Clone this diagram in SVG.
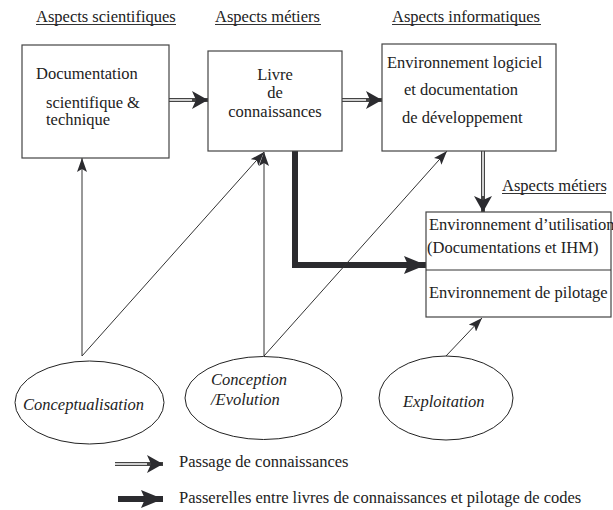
<svg xmlns="http://www.w3.org/2000/svg" width="613" height="510" viewBox="0 0 613 510">
<style>
text{font-family:"Liberation Serif","Tinos","Times New Roman","DejaVu Serif",serif;font-size:16.5px;fill:#222}
.it{font-style:italic}
.box{fill:#fff;stroke:#444;stroke-width:1.2}
.ell{fill:#fff;stroke:#222;stroke-width:1}
.ul{stroke:#333;stroke-width:1}
.thin{fill:none;stroke:#333;stroke-width:1}
.dbl{fill:none;stroke:#444;stroke-width:4}
.dbli{fill:none;stroke:#fff;stroke-width:1.5}
.thick{fill:none;stroke:#2b2b2f;stroke-width:6}
.hd{fill:#2b2b2f}
</style>
<defs>
<marker id="hs" markerUnits="userSpaceOnUse" viewBox="0 0 14 10" refX="14" refY="5" markerWidth="14" markerHeight="10" orient="auto"><path class="hd" d="M0,0 L14,5 L0,10 L3,5 Z"/></marker>
<marker id="hb" markerUnits="userSpaceOnUse" viewBox="0 0 16 18" refX="16" refY="9" markerWidth="16" markerHeight="18" orient="auto"><path class="hd" d="M0,0 L16,9 L0,18 L4,9 Z"/></marker>
<marker id="ht" markerUnits="userSpaceOnUse" viewBox="0 0 22 18" refX="22" refY="9" markerWidth="22" markerHeight="18" orient="auto"><path class="hd" d="M0,0 L22,9 L0,18 L4,9 Z"/></marker>
</defs>

<g id="headers">
<text x="36" y="22">Aspects scientifiques</text><line class="ul" x1="36" y1="24.5" x2="176" y2="24.5"/>
<text x="215" y="22">Aspects métiers</text><line class="ul" x1="215" y1="24.5" x2="321" y2="24.5"/>
<text x="392" y="22">Aspects informatiques</text><line class="ul" x1="392" y1="24.5" x2="541" y2="24.5"/>
<text x="502" y="191">Aspects métiers</text><line class="ul" x1="502" y1="193.5" x2="606" y2="193.5"/>
</g>

<g id="connectors">
<path class="dbl" d="M169,100 H208" marker-end="url(#hb)"/><path class="dbli" d="M169,100 H192"/>
<path class="dbl" d="M342,100 H382" marker-end="url(#hb)"/><path class="dbli" d="M342,100 H366"/>
<path class="dbl" d="M483,151 V212" marker-end="url(#hb)"/><path class="dbli" d="M483,151 V196"/>
<path class="thick" d="M295,151 V265 H426" marker-end="url(#ht)"/>
<path class="thin" d="M82,356 V158" marker-end="url(#hs)"/>
<path class="thin" d="M82,356 L264,152" marker-end="url(#hs)"/>
<path class="thin" d="M264,356 V152" marker-end="url(#hs)"/>
<path class="thin" d="M264,356 L447,151" marker-end="url(#hs)"/>
<path class="thin" d="M446,356 L482,318" marker-end="url(#hs)"/>
</g>

<g id="doc">
<rect class="box" x="22" y="45" width="147" height="113"/>
<text x="36" y="79">Documentation</text>
<text x="46" y="108">scientifique &amp;</text>
<text x="46" y="125">technique</text>
</g>

<g id="livre">
<rect class="box" x="208" y="51" width="134" height="100"/>
<text x="275" y="80" text-anchor="middle">Livre</text>
<text x="275" y="98" text-anchor="middle">de</text>
<text x="275" y="117" text-anchor="middle">connaissances</text>
</g>

<g id="logiciel">
<rect class="box" x="382" y="44" width="174" height="107"/>
<text x="387" y="68">Environnement logiciel</text>
<text x="404" y="95">et documentation</text>
<text x="402" y="123">de développement</text>
</g>

<g id="utilisation">
<rect class="box" x="426" y="212" width="185" height="105"/>
<line class="ul" x1="426" y1="270" x2="611" y2="270"/>
<text x="429" y="230">Environnement d’utilisation</text>
<text x="427" y="253">(Documentations et IHM)</text>
<text x="429" y="298">Environnement de pilotage</text>
</g>

<g id="conceptualisation">
<ellipse class="ell" cx="89.5" cy="402.5" rx="74.5" ry="41.5"/>
<text class="it" x="23" y="410">Conceptualisation</text>
</g>

<g id="conception">
<ellipse class="ell" cx="263.5" cy="398" rx="78.5" ry="41.5"/>
<text class="it" x="211" y="385">Conception</text>
<text class="it" x="211" y="405">/Evolution</text>
</g>

<g id="exploitation">
<ellipse class="ell" cx="446" cy="398" rx="67" ry="42"/>
<text class="it" x="403" y="407">Exploitation</text>
</g>

<g id="legend">
<path class="dbl" d="M115,464 H163" marker-end="url(#hb)"/><path class="dbli" d="M115,464 H147"/>
<text x="179" y="467">Passage de connaissances</text>
<path class="thick" d="M118,499 H163" marker-end="url(#ht)"/>
<text x="179" y="503">Passerelles entre livres de connaissances et pilotage de codes</text>
</g>
</svg>
